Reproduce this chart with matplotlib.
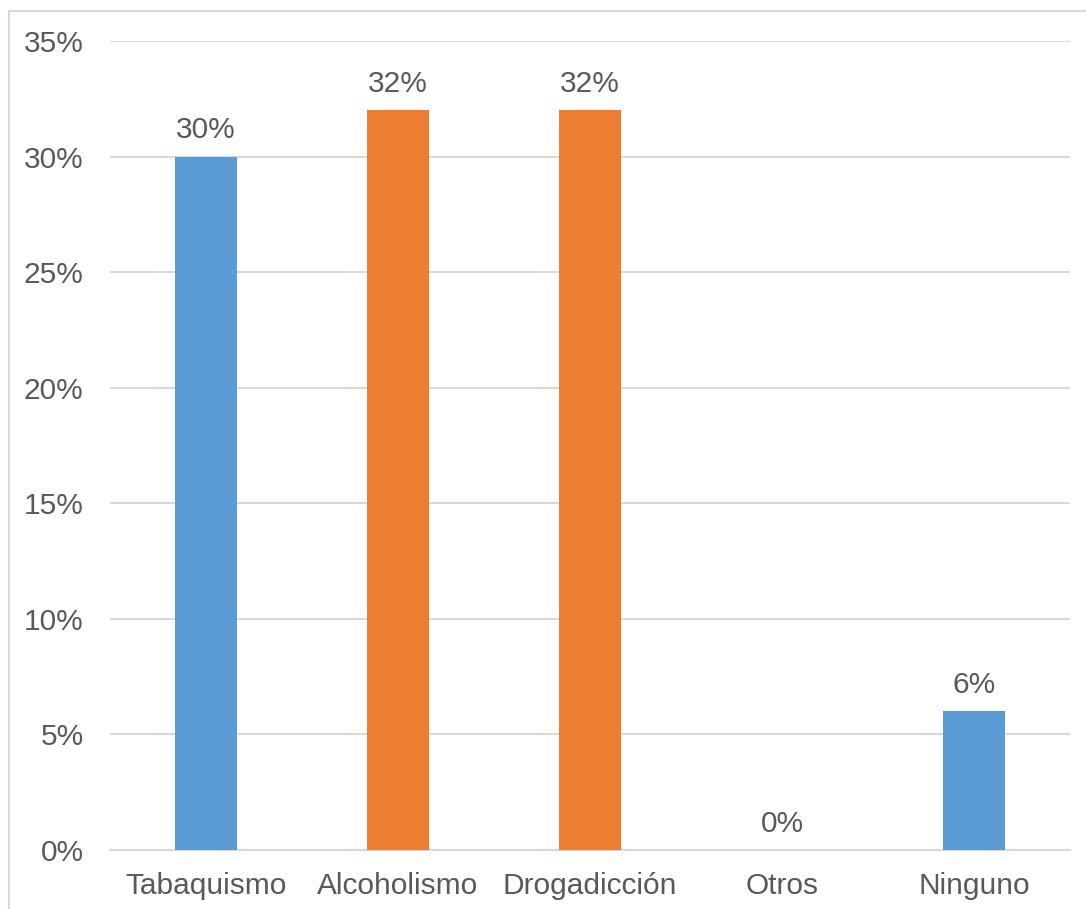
import matplotlib.pyplot as plt
from matplotlib.patches import Rectangle
from matplotlib.ticker import MultipleLocator, FuncFormatter

categories = ["Tabaquismo", "Alcoholismo", "Drogadicción", "Otros", "Ninguno"]
values = [30, 32, 32, 0, 6]
bar_colors = ["#5B9BD5", "#ED7D31", "#ED7D31", "#5B9BD5", "#5B9BD5"]

text_color = "#595959"
grid_color = "#D9D9D9"

plt.rcParams["font.family"] = ["Liberation Sans", "DejaVu Sans"]

fig = plt.figure(figsize=(10.86, 9.09), dpi=100)
ax = fig.add_axes([110 / 1086, 1 - 850 / 909, 960 / 1086, 809 / 909])

x = range(len(categories))
bars = ax.bar(x, values, width=0.32, color=bar_colors, zorder=3)

# value labels above each bar
for rect, v in zip(bars, values):
    ax.annotate(f"{v}%", (rect.get_x() + rect.get_width() / 2, v),
                xytext=(0, 9), textcoords="offset points",
                ha="center", va="bottom", fontsize=21.5, color=text_color)

ax.set_xlim(-0.5, len(categories) - 0.5)
ax.set_ylim(0, 35)
ax.yaxis.set_major_locator(MultipleLocator(5))
ax.yaxis.set_major_formatter(FuncFormatter(lambda v, _: f"{v:.0f}%"))
ax.set_xticks(list(x))
ax.set_xticklabels(categories)

ax.grid(axis="y", color=grid_color, linewidth=1.5, zorder=0)
ax.tick_params(axis="both", length=0, labelsize=21.5, colors=text_color)
ax.tick_params(axis="y", pad=19)
ax.tick_params(axis="x", pad=16)
for side in ["top", "right", "left"]:
    ax.spines[side].set_visible(False)
ax.spines["bottom"].set_color(grid_color)
ax.spines["bottom"].set_linewidth(1.5)

# chart frame, cut off at the right and bottom
fig.add_artist(Rectangle((8.5 / 1086, -0.1), 1.2, 1 - 10.5 / 909 + 0.1,
                         transform=fig.transFigure, fill=False,
                         edgecolor=grid_color, linewidth=1.5))

fig.savefig("out.png", dpi=100, facecolor="white")
